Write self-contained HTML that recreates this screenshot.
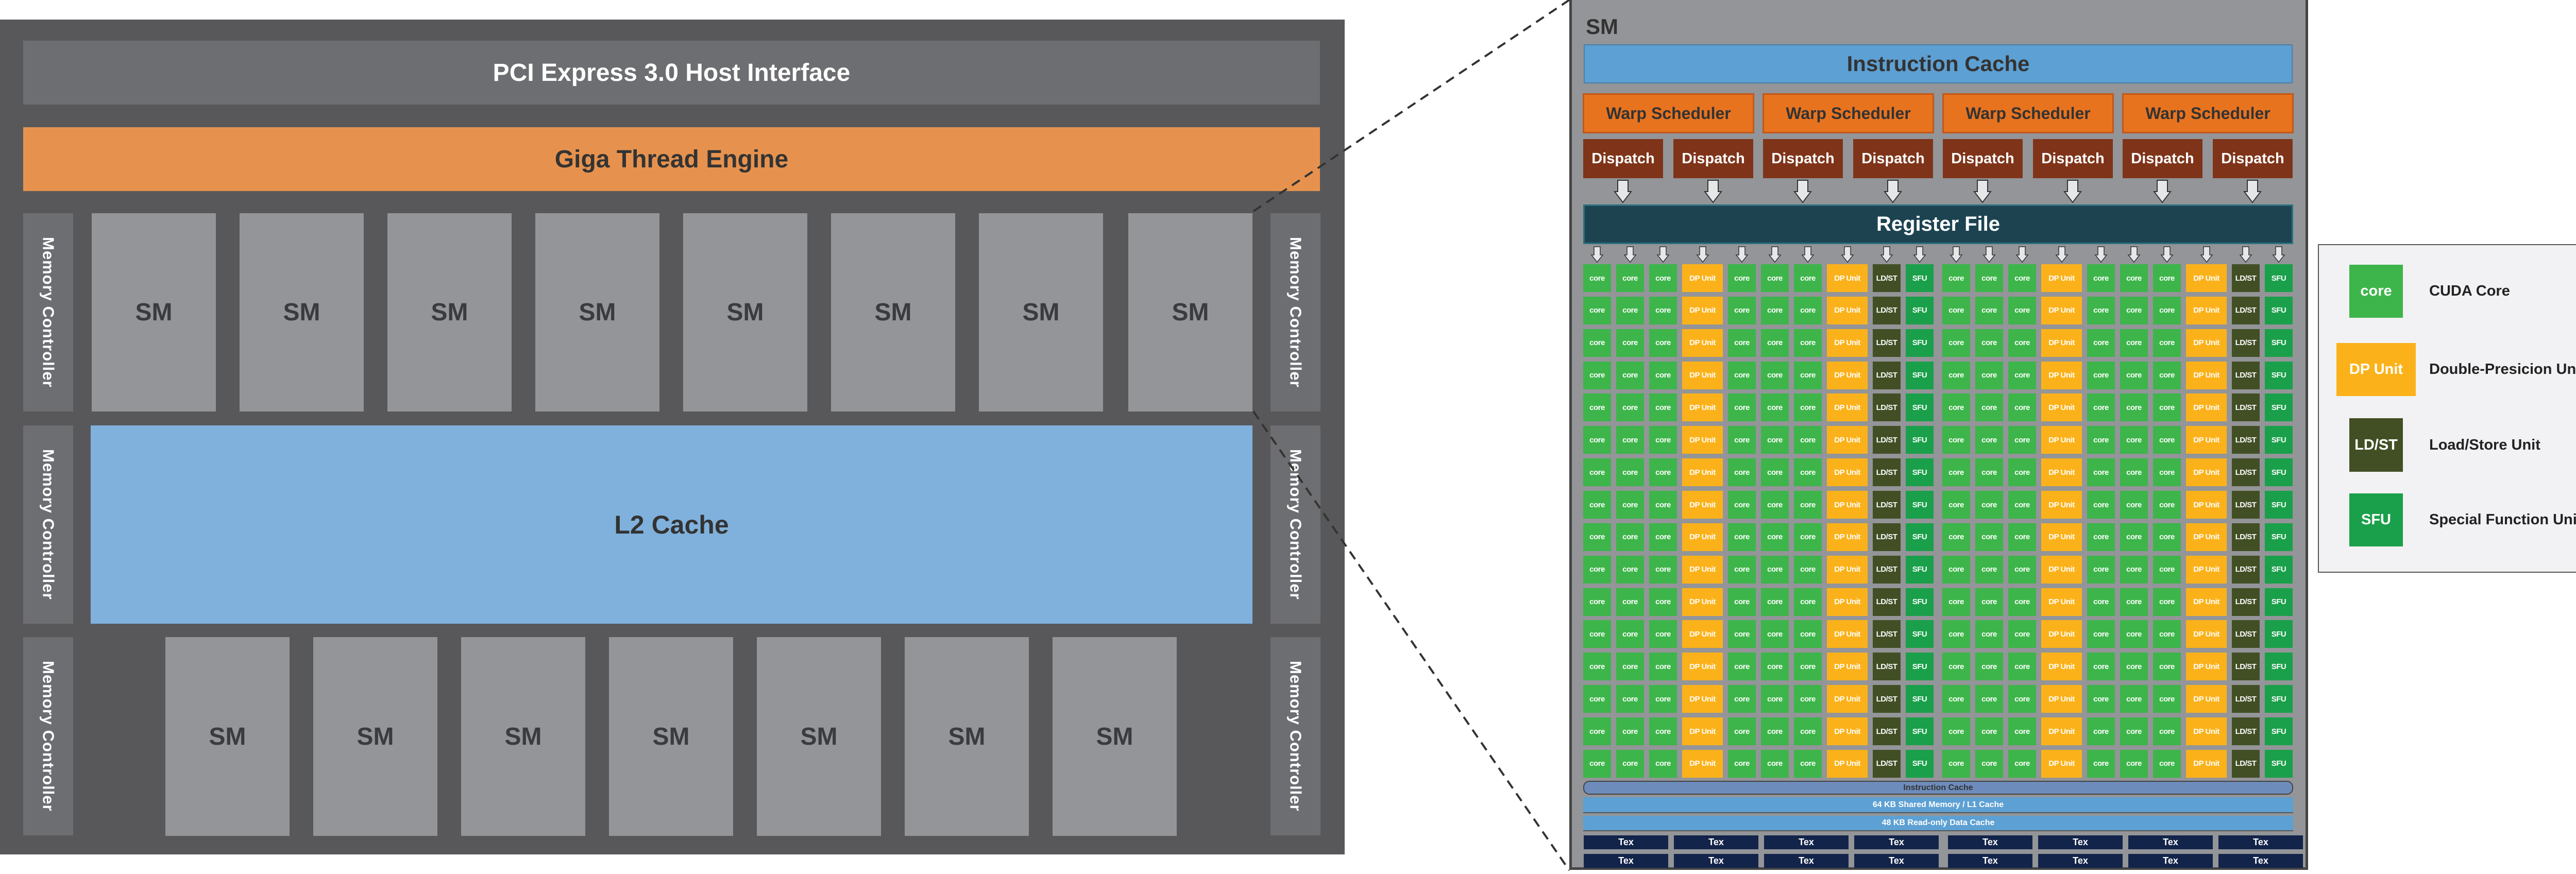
<!DOCTYPE html>
<html style="width:5116px;height:1697px;overflow:hidden"><head><meta charset="utf-8"><style>
*{margin:0;padding:0;box-sizing:border-box}
html,body{width:5116px;height:1697px;overflow:hidden}
body{background:#fff;position:relative;font-family:"Liberation Sans",sans-serif;font-weight:bold}
.a{position:absolute;display:flex;align-items:center;justify-content:center}
.sm{background:#939598;color:#3a3b3f;font-size:48px;width:241px;height:385px}
.mc{background:#6d6e71;color:#fff;font-size:31px;width:97px;height:385px;writing-mode:vertical-rl;letter-spacing:1px}
.ws{background:#e8731f;border:3px solid #c0581b;color:#333;font-size:32px;width:333px;height:78px;top:181px}
.dp{background:#7f3419;color:#fff;font-size:29px;width:155px;height:76px;top:270px}
.tx{background:#13244a;color:#fff;font-size:18px;width:164px;height:27px}
.g{position:absolute;top:513px;display:grid;grid-template-columns:54px 54px 54px 79px 54px 54px 54px 79px 54px 54px;grid-template-rows:repeat(16,54px);column-gap:10px;row-gap:8.87px}
.g i{font-style:normal;display:flex;align-items:center;justify-content:center;color:#fff;font-size:15px;white-space:nowrap;letter-spacing:-0.5px}
.c{background:#3db54a}.d{background:#fbb21a}.l{background:#424f25}.s{background:#1aa04a}
.lg{background:#f2f2f4;border:2px solid #555}
.sw{color:#fff;font-size:29px}
.lt{color:#222;font-size:29px;justify-content:flex-start;white-space:nowrap}
</style></head><body>
<div class="a" style="left:0;top:38px;width:2610px;height:1621px;background:#58585a"></div>
<div class="a" style="left:45px;top:79px;width:2517px;height:124px;background:#6d6e71;color:#fff;font-size:48px">PCI Express 3.0 Host Interface</div>
<div class="a" style="left:45px;top:247px;width:2517px;height:124px;background:#e6924e;color:#333;font-size:48px">Giga Thread Engine</div>
<div class="a mc" style="left:45px;top:414px">Memory Controller</div>
<div class="a mc" style="left:45px;top:826px">Memory Controller</div>
<div class="a mc" style="left:45px;top:1237px">Memory Controller</div>
<div class="a mc" style="left:2466px;top:414px">Memory Controller</div>
<div class="a mc" style="left:2466px;top:826px">Memory Controller</div>
<div class="a mc" style="left:2466px;top:1237px">Memory Controller</div>
<div class="a sm" style="left:178px;top:414px">SM</div>
<div class="a sm" style="left:465px;top:414px">SM</div>
<div class="a sm" style="left:752px;top:414px">SM</div>
<div class="a sm" style="left:1039px;top:414px">SM</div>
<div class="a sm" style="left:1326px;top:414px">SM</div>
<div class="a sm" style="left:1613px;top:414px">SM</div>
<div class="a sm" style="left:1900px;top:414px">SM</div>
<div class="a sm" style="left:2190px;top:414px">SM</div>
<div class="a" style="left:176px;top:826px;width:2255px;height:385px;background:#80b1dc;color:#333;font-size:50px">L2 Cache</div>
<div class="a sm" style="left:321px;top:1237px;height:386px">SM</div>
<div class="a sm" style="left:608px;top:1237px;height:386px">SM</div>
<div class="a sm" style="left:895px;top:1237px;height:386px">SM</div>
<div class="a sm" style="left:1182px;top:1237px;height:386px">SM</div>
<div class="a sm" style="left:1469px;top:1237px;height:386px">SM</div>
<div class="a sm" style="left:1756px;top:1237px;height:386px">SM</div>
<div class="a sm" style="left:2043px;top:1237px;height:386px">SM</div>

<div class="a" style="left:3046px;top:-5px;width:1434px;height:1694px;background:#939598;border:5px solid #444"></div>
<div class="a" style="left:3078px;top:28px;color:#333;font-size:42px">SM</div>
<div class="a" style="left:3074px;top:86px;width:1376px;height:76px;background:#5da0d3;border:2px solid #4a7fa8;color:#333;font-size:42px">Instruction Cache</div>
<div class="a ws" style="left:3072px">Warp Scheduler</div>
<div class="a ws" style="left:3421px">Warp Scheduler</div>
<div class="a ws" style="left:3770px">Warp Scheduler</div>
<div class="a ws" style="left:4119px">Warp Scheduler</div>
<div class="a dp" style="left:3073px">Dispatch</div>
<div class="a dp" style="left:3248px">Dispatch</div>
<div class="a dp" style="left:3422px">Dispatch</div>
<div class="a dp" style="left:3597px">Dispatch</div>
<div class="a dp" style="left:3771px">Dispatch</div>
<div class="a dp" style="left:3946px">Dispatch</div>
<div class="a dp" style="left:4120px">Dispatch</div>
<div class="a dp" style="left:4295px">Dispatch</div>
<div class="a" style="left:3073px;top:397px;width:1378px;height:77px;background:#1d4351;border:3px solid #2c6f80;color:#fff;font-size:40px">Register File</div>

<div class="g" style="left:3073px">
<i class=c>core</i><i class=c>core</i><i class=c>core</i><i class=d>DP Unit</i><i class=c>core</i><i class=c>core</i><i class=c>core</i><i class=d>DP Unit</i><i class=l>LD/ST</i><i class=s>SFU</i>
<i class=c>core</i><i class=c>core</i><i class=c>core</i><i class=d>DP Unit</i><i class=c>core</i><i class=c>core</i><i class=c>core</i><i class=d>DP Unit</i><i class=l>LD/ST</i><i class=s>SFU</i>
<i class=c>core</i><i class=c>core</i><i class=c>core</i><i class=d>DP Unit</i><i class=c>core</i><i class=c>core</i><i class=c>core</i><i class=d>DP Unit</i><i class=l>LD/ST</i><i class=s>SFU</i>
<i class=c>core</i><i class=c>core</i><i class=c>core</i><i class=d>DP Unit</i><i class=c>core</i><i class=c>core</i><i class=c>core</i><i class=d>DP Unit</i><i class=l>LD/ST</i><i class=s>SFU</i>
<i class=c>core</i><i class=c>core</i><i class=c>core</i><i class=d>DP Unit</i><i class=c>core</i><i class=c>core</i><i class=c>core</i><i class=d>DP Unit</i><i class=l>LD/ST</i><i class=s>SFU</i>
<i class=c>core</i><i class=c>core</i><i class=c>core</i><i class=d>DP Unit</i><i class=c>core</i><i class=c>core</i><i class=c>core</i><i class=d>DP Unit</i><i class=l>LD/ST</i><i class=s>SFU</i>
<i class=c>core</i><i class=c>core</i><i class=c>core</i><i class=d>DP Unit</i><i class=c>core</i><i class=c>core</i><i class=c>core</i><i class=d>DP Unit</i><i class=l>LD/ST</i><i class=s>SFU</i>
<i class=c>core</i><i class=c>core</i><i class=c>core</i><i class=d>DP Unit</i><i class=c>core</i><i class=c>core</i><i class=c>core</i><i class=d>DP Unit</i><i class=l>LD/ST</i><i class=s>SFU</i>
<i class=c>core</i><i class=c>core</i><i class=c>core</i><i class=d>DP Unit</i><i class=c>core</i><i class=c>core</i><i class=c>core</i><i class=d>DP Unit</i><i class=l>LD/ST</i><i class=s>SFU</i>
<i class=c>core</i><i class=c>core</i><i class=c>core</i><i class=d>DP Unit</i><i class=c>core</i><i class=c>core</i><i class=c>core</i><i class=d>DP Unit</i><i class=l>LD/ST</i><i class=s>SFU</i>
<i class=c>core</i><i class=c>core</i><i class=c>core</i><i class=d>DP Unit</i><i class=c>core</i><i class=c>core</i><i class=c>core</i><i class=d>DP Unit</i><i class=l>LD/ST</i><i class=s>SFU</i>
<i class=c>core</i><i class=c>core</i><i class=c>core</i><i class=d>DP Unit</i><i class=c>core</i><i class=c>core</i><i class=c>core</i><i class=d>DP Unit</i><i class=l>LD/ST</i><i class=s>SFU</i>
<i class=c>core</i><i class=c>core</i><i class=c>core</i><i class=d>DP Unit</i><i class=c>core</i><i class=c>core</i><i class=c>core</i><i class=d>DP Unit</i><i class=l>LD/ST</i><i class=s>SFU</i>
<i class=c>core</i><i class=c>core</i><i class=c>core</i><i class=d>DP Unit</i><i class=c>core</i><i class=c>core</i><i class=c>core</i><i class=d>DP Unit</i><i class=l>LD/ST</i><i class=s>SFU</i>
<i class=c>core</i><i class=c>core</i><i class=c>core</i><i class=d>DP Unit</i><i class=c>core</i><i class=c>core</i><i class=c>core</i><i class=d>DP Unit</i><i class=l>LD/ST</i><i class=s>SFU</i>
<i class=c>core</i><i class=c>core</i><i class=c>core</i><i class=d>DP Unit</i><i class=c>core</i><i class=c>core</i><i class=c>core</i><i class=d>DP Unit</i><i class=l>LD/ST</i><i class=s>SFU</i>
</div>
<div class="g" style="left:3770px">
<i class=c>core</i><i class=c>core</i><i class=c>core</i><i class=d>DP Unit</i><i class=c>core</i><i class=c>core</i><i class=c>core</i><i class=d>DP Unit</i><i class=l>LD/ST</i><i class=s>SFU</i>
<i class=c>core</i><i class=c>core</i><i class=c>core</i><i class=d>DP Unit</i><i class=c>core</i><i class=c>core</i><i class=c>core</i><i class=d>DP Unit</i><i class=l>LD/ST</i><i class=s>SFU</i>
<i class=c>core</i><i class=c>core</i><i class=c>core</i><i class=d>DP Unit</i><i class=c>core</i><i class=c>core</i><i class=c>core</i><i class=d>DP Unit</i><i class=l>LD/ST</i><i class=s>SFU</i>
<i class=c>core</i><i class=c>core</i><i class=c>core</i><i class=d>DP Unit</i><i class=c>core</i><i class=c>core</i><i class=c>core</i><i class=d>DP Unit</i><i class=l>LD/ST</i><i class=s>SFU</i>
<i class=c>core</i><i class=c>core</i><i class=c>core</i><i class=d>DP Unit</i><i class=c>core</i><i class=c>core</i><i class=c>core</i><i class=d>DP Unit</i><i class=l>LD/ST</i><i class=s>SFU</i>
<i class=c>core</i><i class=c>core</i><i class=c>core</i><i class=d>DP Unit</i><i class=c>core</i><i class=c>core</i><i class=c>core</i><i class=d>DP Unit</i><i class=l>LD/ST</i><i class=s>SFU</i>
<i class=c>core</i><i class=c>core</i><i class=c>core</i><i class=d>DP Unit</i><i class=c>core</i><i class=c>core</i><i class=c>core</i><i class=d>DP Unit</i><i class=l>LD/ST</i><i class=s>SFU</i>
<i class=c>core</i><i class=c>core</i><i class=c>core</i><i class=d>DP Unit</i><i class=c>core</i><i class=c>core</i><i class=c>core</i><i class=d>DP Unit</i><i class=l>LD/ST</i><i class=s>SFU</i>
<i class=c>core</i><i class=c>core</i><i class=c>core</i><i class=d>DP Unit</i><i class=c>core</i><i class=c>core</i><i class=c>core</i><i class=d>DP Unit</i><i class=l>LD/ST</i><i class=s>SFU</i>
<i class=c>core</i><i class=c>core</i><i class=c>core</i><i class=d>DP Unit</i><i class=c>core</i><i class=c>core</i><i class=c>core</i><i class=d>DP Unit</i><i class=l>LD/ST</i><i class=s>SFU</i>
<i class=c>core</i><i class=c>core</i><i class=c>core</i><i class=d>DP Unit</i><i class=c>core</i><i class=c>core</i><i class=c>core</i><i class=d>DP Unit</i><i class=l>LD/ST</i><i class=s>SFU</i>
<i class=c>core</i><i class=c>core</i><i class=c>core</i><i class=d>DP Unit</i><i class=c>core</i><i class=c>core</i><i class=c>core</i><i class=d>DP Unit</i><i class=l>LD/ST</i><i class=s>SFU</i>
<i class=c>core</i><i class=c>core</i><i class=c>core</i><i class=d>DP Unit</i><i class=c>core</i><i class=c>core</i><i class=c>core</i><i class=d>DP Unit</i><i class=l>LD/ST</i><i class=s>SFU</i>
<i class=c>core</i><i class=c>core</i><i class=c>core</i><i class=d>DP Unit</i><i class=c>core</i><i class=c>core</i><i class=c>core</i><i class=d>DP Unit</i><i class=l>LD/ST</i><i class=s>SFU</i>
<i class=c>core</i><i class=c>core</i><i class=c>core</i><i class=d>DP Unit</i><i class=c>core</i><i class=c>core</i><i class=c>core</i><i class=d>DP Unit</i><i class=l>LD/ST</i><i class=s>SFU</i>
<i class=c>core</i><i class=c>core</i><i class=c>core</i><i class=d>DP Unit</i><i class=c>core</i><i class=c>core</i><i class=c>core</i><i class=d>DP Unit</i><i class=l>LD/ST</i><i class=s>SFU</i>
</div>

<div class="a" style="left:3073px;top:1516px;width:1378px;height:27px;background:#6d8cbb;border:2px solid #444;border-radius:12px;color:#333;font-size:16px">Instruction Cache</div>
<div class="a" style="left:3073px;top:1548px;width:1378px;height:31px;background:#5da0d3;border-bottom:2px solid #555;color:#fff;font-size:16px">64 KB Shared Memory / L1 Cache</div>
<div class="a" style="left:3073px;top:1584px;width:1378px;height:30px;background:#5da0d3;border-bottom:2px solid #555;color:#fff;font-size:16px">48 KB Read-only Data Cache</div>
<div class="a tx" style="left:3074px;top:1622px">Tex</div><div class="a tx" style="left:3249px;top:1622px">Tex</div><div class="a tx" style="left:3424px;top:1622px">Tex</div><div class="a tx" style="left:3599px;top:1622px">Tex</div><div class="a tx" style="left:3781px;top:1622px">Tex</div><div class="a tx" style="left:3956px;top:1622px">Tex</div><div class="a tx" style="left:4131px;top:1622px">Tex</div><div class="a tx" style="left:4306px;top:1622px">Tex</div>
<div class="a tx" style="left:3074px;top:1658px">Tex</div><div class="a tx" style="left:3249px;top:1658px">Tex</div><div class="a tx" style="left:3424px;top:1658px">Tex</div><div class="a tx" style="left:3599px;top:1658px">Tex</div><div class="a tx" style="left:3781px;top:1658px">Tex</div><div class="a tx" style="left:3956px;top:1658px">Tex</div><div class="a tx" style="left:4131px;top:1658px">Tex</div><div class="a tx" style="left:4306px;top:1658px">Tex</div>

<div class="a lg" style="left:4499px;top:474px;width:596px;height:638px"></div>
<div class="a sw c" style="left:4560px;top:514px;width:104px;height:103px">core</div>
<div class="a sw d" style="left:4535px;top:666px;width:154px;height:103px">DP Unit</div>
<div class="a sw l" style="left:4560px;top:812px;width:104px;height:104px">LD/ST</div>
<div class="a sw s" style="left:4560px;top:958px;width:104px;height:103px">SFU</div>
<div class="a lt" style="left:4715px;top:514px;height:103px">CUDA Core</div>
<div class="a lt" style="left:4715px;top:666px;height:103px">Double-Presicion Unit</div>
<div class="a lt" style="left:4715px;top:812px;height:104px">Load/Store Unit</div>
<div class="a lt" style="left:4715px;top:958px;height:103px">Special Function Unit</div>

<svg width="5116" height="1697" style="position:absolute;left:0;top:0" xmlns="http://www.w3.org/2000/svg">
<defs>
<polygon id="ba" points="-10,350 10,350 10,372 16,372 0,393 -16,372 -10,372" fill="#e6e7e8" stroke="#333" stroke-width="2"/>
<polygon id="sa" points="-6,479 6,479 6,495 11,495 0,509 -11,495 -6,495" fill="#e6e7e8" stroke="#333" stroke-width="1.5"/>
</defs>
<line x1="2433" y1="410" x2="3046" y2="0" stroke="#333" stroke-width="4" stroke-dasharray="18,12"/>
<line x1="2433" y1="799" x2="3046" y2="1690" stroke="#333" stroke-width="4" stroke-dasharray="18,12"/>
<use href="#ba" x="3150"/><use href="#ba" x="3325"/><use href="#ba" x="3499"/><use href="#ba" x="3674"/><use href="#ba" x="3848"/><use href="#ba" x="4023"/><use href="#ba" x="4197"/><use href="#ba" x="4372"/>
<use href="#sa" x="3100"/><use href="#sa" x="3164"/><use href="#sa" x="3228"/><use href="#sa" x="3305"/><use href="#sa" x="3381"/><use href="#sa" x="3445"/><use href="#sa" x="3509"/><use href="#sa" x="3586"/><use href="#sa" x="3662"/><use href="#sa" x="3726"/>
<use href="#sa" x="3797"/><use href="#sa" x="3861"/><use href="#sa" x="3925"/><use href="#sa" x="4002"/><use href="#sa" x="4078"/><use href="#sa" x="4142"/><use href="#sa" x="4206"/><use href="#sa" x="4283"/><use href="#sa" x="4359"/><use href="#sa" x="4423"/>
</svg>
</body></html>
